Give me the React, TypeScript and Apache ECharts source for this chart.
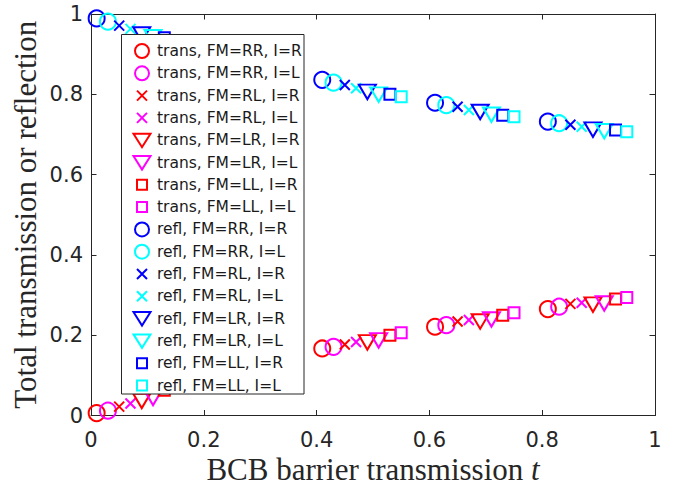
import React, { useEffect, useRef } from 'react';
import * as echarts from 'echarts';

// Configuration labels (Fermi-mode pair FM and injection side I)
const configLabels = [
  'FM=RR, I=R',
  'FM=RR, I=L',
  'FM=RL, I=R',
  'FM=RL, I=L',
  'FM=LR, I=R',
  'FM=LR, I=L',
  'FM=LL, I=R',
  'FM=LL, I=L',
];

// Barrier transmission t at which each configuration is plotted
const tSamples = [
  [0.01, 0.41, 0.61, 0.81],
  [0.03, 0.43, 0.63, 0.83],
  [0.05, 0.45, 0.65, 0.85],
  [0.07, 0.47, 0.67, 0.87],
  [0.09, 0.49, 0.69, 0.89],
  [0.11, 0.51, 0.71, 0.91],
  [0.13, 0.53, 0.73, 0.93],
  [0.15, 0.55, 0.75, 0.95],
];

// Total transmission per configuration
const transmission = [
  [0.006, 0.167, 0.221, 0.265],
  [0.012, 0.171, 0.225, 0.271],
  [0.022, 0.177, 0.234, 0.278],
  [0.03, 0.183, 0.238, 0.281],
  [0.042, 0.188, 0.24, 0.282],
  [0.05, 0.193, 0.245, 0.285],
  [0.063, 0.2, 0.25, 0.29],
  [0.071, 0.206, 0.256, 0.294],
];

// Total reflection per configuration
const reflection = [
  [0.989, 0.836, 0.779, 0.732],
  [0.981, 0.829, 0.773, 0.728],
  [0.971, 0.823, 0.769, 0.724],
  [0.963, 0.815, 0.761, 0.719],
  [0.955, 0.812, 0.762, 0.718],
  [0.948, 0.805, 0.755, 0.714],
  [0.941, 0.8, 0.748, 0.711],
  [0.933, 0.794, 0.744, 0.707],
];

const AXIS_COLOR = '#262626';
const TICK_FONT = 'DejaVu Sans';
const TITLE_FONT = 'Liberation Serif';

type MarkerDef = {
  symbol: string;
  size: number | number[];
  offset?: number[];
  legendIcon: string;
};

// Marker shape per FM pair: RR circle, RL cross, LR down-triangle, LL square
const markers: MarkerDef[] = [
  {
    symbol: 'circle',
    size: 16,
    legendIcon: 'path://M0,0M20,16M17,8A7,7,0,1,1,3,8A7,7,0,1,1,17,8Z',
  },
  {
    symbol: 'path://M0,0L10,10M10,0L0,10',
    size: 10,
    legendIcon: 'path://M0,0M20,16M5,3L15,13M15,3L5,13',
  },
  {
    symbol: 'path://M0,0L20,0L10,17Z',
    size: [17, 14.5],
    offset: [0, 2.4],
    legendIcon: 'path://M0,0M20,16M1.5,1.5L18.5,1.5L10,15Z',
  },
  {
    symbol: 'rect',
    size: 11,
    legendIcon: 'path://M0,0M20,16M5,3H15V13H5Z',
  },
];

const kinds = [
  { label: 'trans', values: transmission, colors: ['#ff0000', '#ff00ff'] },
  { label: 'refl', values: reflection, colors: ['#0000ff', '#00ffff'] },
];

function buildSeries() {
  const series: any[] = [];
  const legendData: any[] = [];
  kinds.forEach((kind) => {
    configLabels.forEach((cfg, i) => {
      const marker = markers[Math.floor(i / 2)];
      const color = kind.colors[i % 2];
      const name = `${kind.label}, ${cfg}`;
      series.push({
        type: 'scatter',
        name,
        data: tSamples[i].map((t, g) => [t, kind.values[i][g]]),
        symbol: marker.symbol,
        symbolSize: marker.size,
        symbolOffset: marker.offset || [0, 0],
        itemStyle: { color: 'none', borderColor: color, borderWidth: 2, opacity: 1 },
        emphasis: { disabled: true },
        z: 2,
      });
      legendData.push({
        name,
        icon: marker.legendIcon,
        itemStyle: { color: 'none', borderColor: color, borderWidth: 2 },
      });
    });
  });
  return { series, legendData };
}

function baseAxis(extra: any) {
  return {
    type: 'value',
    min: 0,
    max: 1,
    interval: 0.2,
    splitLine: { show: false },
    axisLine: { show: true, onZero: false, lineStyle: { color: AXIS_COLOR, width: 1 } },
    axisTick: { show: true, inside: true, length: 5.5, lineStyle: { color: AXIS_COLOR, width: 1 } },
    ...extra,
  };
}

export default function App() {
  const ref = useRef<HTMLDivElement>(null);

  useEffect(() => {
    if (!ref.current) return;
    const chart = echarts.init(ref.current, null, { renderer: 'svg' });
    const { series, legendData } = buildSeries();
    const tickLabel = { fontFamily: TICK_FONT, fontSize: 21, color: AXIS_COLOR };

    chart.setOption({
      animation: false,
      backgroundColor: '#ffffff',
      grid: {
        left: 91,
        top: 14,
        right: 28,
        bottom: 71.5,
        containLabel: false,
        outerBoundsMode: 'none',
      },
      xAxis: [
        baseAxis({
          position: 'bottom',
          axisLabel: { ...tickLabel, margin: 14 },
          name: '{a|BCB barrier transmission }{b|t}',
          nameLocation: 'middle',
          nameGap: 38,
          nameMoveOverlap: false,
          nameTextStyle: {
            rich: {
              a: { fontFamily: TITLE_FONT, fontSize: 31, color: AXIS_COLOR },
              b: { fontFamily: TITLE_FONT, fontSize: 31, fontStyle: 'italic', color: AXIS_COLOR },
            },
          },
        }),
        baseAxis({ position: 'top', axisLabel: { show: false } }),
      ],
      yAxis: [
        baseAxis({
          position: 'left',
          axisLabel: { ...tickLabel, margin: 8 },
          name: 'Total transmission or reflection',
          nameLocation: 'middle',
          nameGap: 50,
          nameMoveOverlap: false,
          nameTextStyle: { fontFamily: TITLE_FONT, fontSize: 31, color: AXIS_COLOR },
        }),
        baseAxis({ position: 'right', axisLabel: { show: false } }),
      ],
      legend: {
        orient: 'vertical',
        left: 121,
        top: 34.5,
        padding: [6, 5, 5, 8.5],
        itemWidth: 20,
        itemHeight: 16,
        itemGap: 1.3,
        selectedMode: false,
        textStyle: { fontFamily: TICK_FONT, fontSize: 15.5, lineHeight: 16, color: '#1a1a1a' },
        data: legendData,
        z: 4,
      },
      graphic: [
        {
          type: 'rect',
          z: 3,
          silent: true,
          shape: { x: 121.5, y: 34.5, width: 182.5, height: 359.5 },
          style: { fill: '#ffffff', stroke: AXIS_COLOR, lineWidth: 1 },
        },
      ],
      series,
    });

    return () => chart.dispose();
  }, []);

  return (
    <div
      ref={ref}
      style={{ position: 'absolute', left: 0, top: 0, width: 683, height: 487 }}
    />
  );
}
